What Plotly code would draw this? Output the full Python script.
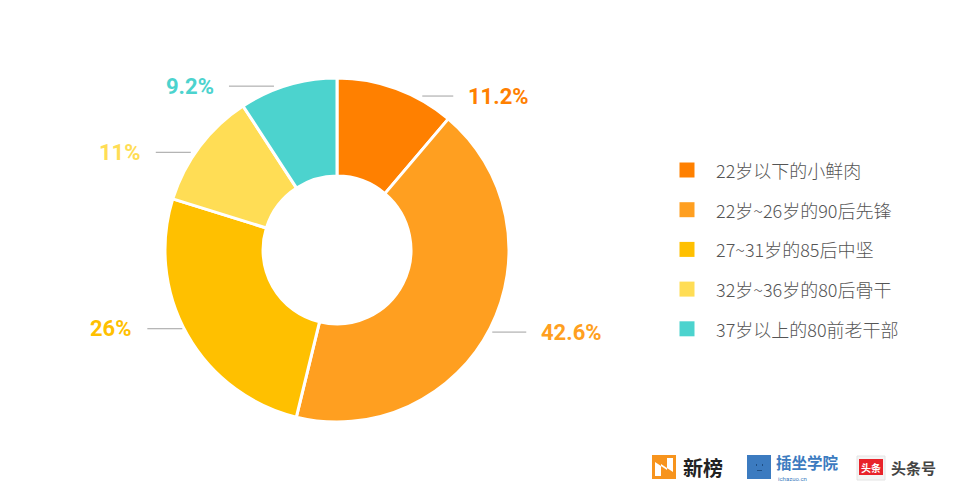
import math
import plotly.graph_objects as go

categories = ["22岁以下的小鲜肉", "22岁~26岁的90后先锋", "27~31岁的85后中坚", "32岁~36岁的80后骨干", "37岁以上的80前老干部"]
values = [11.2, 42.6, 26, 11, 9.2]
value_labels = ["11.2%", "42.6%", "26%", "11%", "9.2%"]
colors = ["#FF8000", "#FF9F20", "#FFC000", "#FFDD55", "#4CD3CE"]

W, H = 960, 500
cx, cy, R = 337, 250, 172
hole = 0.43
# small layout nudges for label leader lines (dx, dy in px), like an auto label-layout would apply
label_nudge = [(18, 7.5), (-6, 4), (3, -6), (-1, 6), (-6, 1)]
line_len = [31, 34, 35, 35, 45]

fig = go.Figure()
fig.add_trace(go.Pie(
    labels=categories, values=values, sort=False, direction="clockwise", rotation=0,
    hole=hole, marker=dict(colors=colors, line=dict(color="white", width=3)),
    textinfo="none", hoverinfo="label+percent", showlegend=False,
    domain=dict(x=[(cx - R) / W, (cx + R) / W], y=[1 - (cy + R) / H, 1 - (cy - R) / H]),
))

shapes = []
annotations = []
total = sum(values)
cum = 0
for i, (v, lab, col) in enumerate(zip(values, value_labels, colors)):
    mid = (cum + v / 2) / total * 2 * math.pi
    cum += v
    px = cx + R * math.sin(mid)
    py = cy - R * math.cos(mid)
    side = 1 if math.sin(mid) >= 0 else -1
    x0 = px + side * 8 + label_nudge[i][0]
    ly = py + label_nudge[i][1]
    x1 = x0 + side * line_len[i]
    shapes.append(dict(type="line", xref="paper", yref="paper",
                       x0=x0 / W, x1=x1 / W, y0=1 - ly / H, y1=1 - ly / H,
                       line=dict(color="#A0A0A0", width=1)))
    annotations.append(dict(xref="paper", yref="paper", x=(x1 + side * 13) / W, y=1 - ly / H,
                            text=f"<b>{lab}</b>", showarrow=False,
                            xanchor="left" if side > 0 else "right", yanchor="middle",
                            font=dict(family="Roboto", size=22, color=col)))

# legend (manual)
lx, ly0, lstep, msz = 687, 170, 39.7, 15
for i, (cat, col) in enumerate(zip(categories, colors)):
    y = ly0 + i * lstep
    shapes.append(dict(type="rect", xref="paper", yref="paper",
                       x0=(lx - msz / 2) / W, x1=(lx + msz / 2) / W,
                       y0=1 - (y + msz / 2) / H, y1=1 - (y - msz / 2) / H,
                       fillcolor=col, line=dict(width=0)))
    annotations.append(dict(xref="paper", yref="paper", x=714 / W, y=1 - y / H, text=cat,
                            showarrow=False, xanchor="left", yanchor="middle",
                            font=dict(family="Noto Sans CJK SC", size=18, color="#555555", weight=300)))

# logos (bottom right)
def rect(x0, y0, x1, y1, color, line=None):
    shapes.append(dict(type="rect", xref="paper", yref="paper", x0=x0 / W, x1=x1 / W,
                       y0=1 - y1 / H, y1=1 - y0 / H, fillcolor=color,
                       line=line if line else dict(width=0)))

def txt(x, y, t, size, color, anchor="left", family="Noto Sans CJK SC"):
    annotations.append(dict(xref="paper", yref="paper", x=x / W, y=1 - y / H, text=t, showarrow=False,
                            xanchor=anchor, yanchor="middle", font=dict(family=family, size=size, color=color)))

rect(652, 455, 676, 479, "#F7941D")
shapes.append(dict(type="path", xref="paper", yref="paper",
                   path=" ".join([
                       f"M {655/W},{1-476/H} L {655/W},{1-462/H} L {667/W},{1-470/H} L {667/W},{1-458/H}",
                       f"L {673/W},{1-458/H} L {673/W},{1-472/H} L {661/W},{1-464/H} L {661/W},{1-476/H} Z"]),
                   fillcolor="white", line=dict(width=0)))
txt(681, 467, "<b>新榜</b>", 20, "#222222")

rect(747, 455, 771, 479, "#3C7BC0")
rect(756, 464, 757, 466, "#1F4F85")
rect(762, 464, 763, 466, "#1F4F85")
rect(757, 470, 762, 471, "#1F4F85")
txt(774, 462, "<b>插坐学院</b>", 15.5, "#3C7BC0")
txt(776, 478, "ichazuo.cn", 6, "#3C7BC0", family="Roboto")

rect(857, 456, 885, 480, "#F4F4F4", line=dict(color="#E4E4E4", width=1))
rect(859, 459, 883, 475, "#E8232A")
txt(871, 467, "<b>头条</b>", 10, "white", anchor="center")
txt(889, 467, "<b>头条号</b>", 15, "#444444")

fig.update_layout(width=W, height=H, margin=dict(l=0, r=0, t=0, b=0),
                  paper_bgcolor="white", plot_bgcolor="white",
                  shapes=shapes, annotations=annotations)
fig.write_html("out.html", config={"displayModeBar": False},
               post_script="document.body.style.margin='0';document.body.style.padding='0';")
